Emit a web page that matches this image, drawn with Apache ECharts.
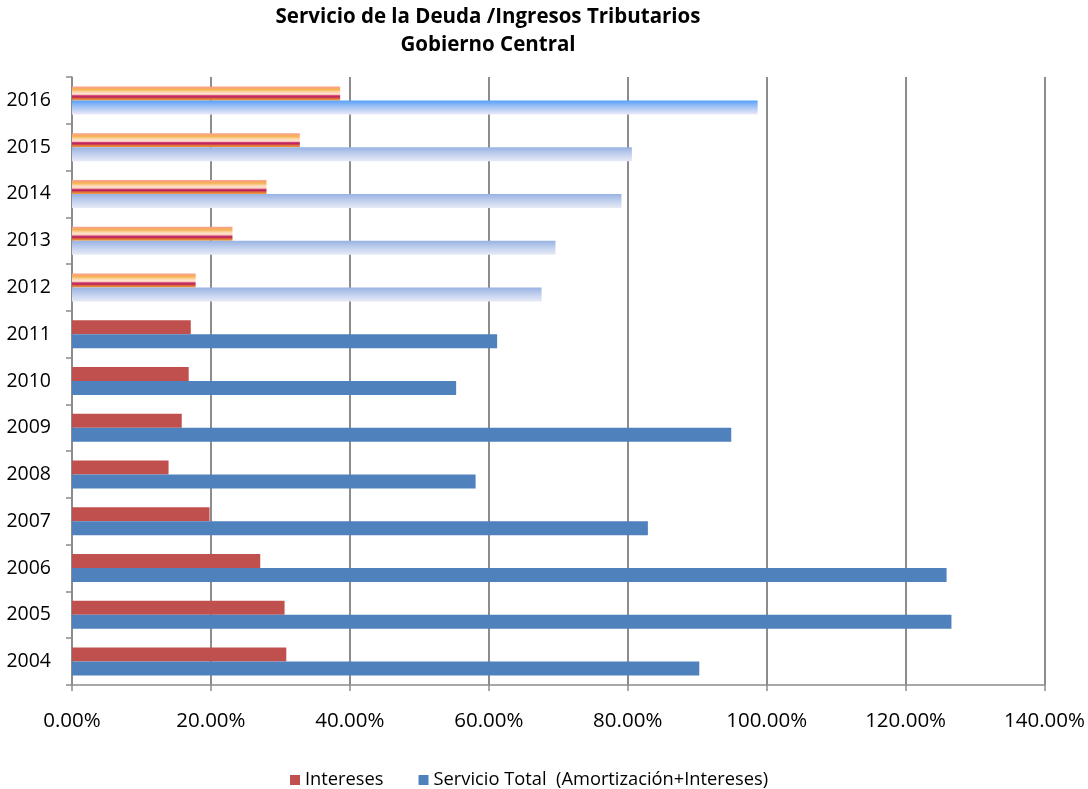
<!DOCTYPE html>
<html>
<head>
<meta charset="utf-8">
<script src="https://cdn.jsdelivr.net/npm/echarts@6/dist/echarts.min.js"></script>
<style>
  html, body { margin: 0; padding: 0; background: #ffffff; }
  #chart { width: 1088px; height: 789px; }
</style>
</head>
<body>
<div id="chart"></div>
<script>
// Years shown on the category axis (bottom to top)
const years = ['2004', '2005', '2006', '2007', '2008', '2009', '2010', '2011', '2012', '2013', '2014', '2015', '2016'];

// Interest payments as % of tax revenue
const intereses = [30.85, 30.6, 27.1, 19.8, 13.9, 15.8, 16.8, 17.1, 17.8, 23.1, 28.0, 32.8, 38.6];

// Total debt service (amortization + interest) as % of tax revenue
const servicioTotal = [90.3, 126.6, 125.9, 82.9, 58.1, 94.9, 55.3, 61.2, 67.6, 69.6, 79.1, 80.6, 98.7];

// Years from which values are projections (drawn with gradient fills)
const projectedFrom = 2012;

// Tick values along the percentage axis
const xTicks = [0, 20, 40, 60, 80, 100, 120, 140];

const FONT = '"Open Sans", sans-serif';
const RED = '#c0504d';
const BLUE = '#4f81bd';

function vGrad(stops) {
  return new echarts.graphic.LinearGradient(0, 0, 0, 1,
    stops.map(s => ({ offset: s[0], color: s[1] })));
}

const interesGrad = vGrad([
  [0.00, '#f9a08e'], [0.12, '#f8a878'], [0.22, '#f6b14c'], [0.36, '#fbcf98'],
  [0.50, '#ffe4d2'], [0.60, '#f7c4b0'], [0.66, '#d0407a'], [0.76, '#b82058'],
  [0.84, '#d8603c'], [1.00, '#f0a040']
]);
const totalGradBright = vGrad([[0, '#55a0fb'], [0.5, '#a8c6f4'], [1, '#ece8f8']]);
const totalGradSoft = vGrad([[0, '#98b2e2'], [0.5, '#c2d0ee'], [1, '#e6eaf6']]);

function buildItems(values, kind) {
  return values.map((v, i) => {
    const y = Number(years[i]);
    if (y < projectedFrom) return { value: v };
    let color;
    if (kind === 'int') color = interesGrad;
    else color = (i === values.length - 1) ? totalGradBright : totalGradSoft;
    return { value: v, itemStyle: { color: color, borderWidth: 0 } };
  });
}

const chart = echarts.init(document.getElementById('chart'), null, { renderer: 'canvas' });

chart.setOption({
  animation: false,
  backgroundColor: '#ffffff',
  title: {
    text: 'Servicio de la Deuda /Ingresos Tributarios\nGobierno Central',
    left: 483,
    top: 0,
    padding: [3, 5, 5, 5],
    textAlign: 'center',
    textStyle: { fontFamily: FONT, fontWeight: 'bold', fontSize: 20.5, color: '#000', lineHeight: 28 }
  },
  legend: {
    top: 766,
    left: 285,
    itemWidth: 10,
    itemHeight: 10,
    itemGap: 35,
    icon: 'rect',
    data: ['Intereses', 'Servicio Total  (Amortización+Intereses)'],
    textStyle: { fontFamily: FONT, fontSize: 18.3, color: '#000' }
  },
  grid: { left: 72, right: 43, top: 77, bottom: 104, containLabel: false },
  xAxis: {
    type: 'value',
    min: xTicks[0],
    max: xTicks[xTicks.length - 1],
    interval: xTicks[1] - xTicks[0],
    axisLine: { show: true, lineStyle: { color: '#8c8c8c', width: 1.5 } },
    axisTick: { show: true, length: 6, lineStyle: { color: '#8c8c8c', width: 1.5 } },
    splitLine: { show: true, lineStyle: { color: '#8c8c8c', width: 2 } },
    axisLabel: {
      margin: 26,
      fontFamily: FONT, fontSize: 20.5, color: '#000',
      formatter: v => v.toFixed(2) + '%'
    }
  },
  yAxis: {
    type: 'category',
    data: years,
    axisLine: { show: true, lineStyle: { color: '#8c8c8c', width: 1.5 } },
    axisTick: { show: true, length: 6, lineStyle: { color: '#8c8c8c', width: 1.5 } },
    axisLabel: { margin: 21, fontFamily: FONT, fontSize: 19.5, color: '#000' }
  },
  series: [
    {
      name: 'Intereses',
      type: 'bar',
      barWidth: 14,
      barGap: '0%',
      itemStyle: { color: RED },
      data: buildItems(intereses, 'int')
    },
    {
      name: 'Servicio Total  (Amortización+Intereses)',
      type: 'bar',
      barWidth: 14,
      barGap: '0%',
      itemStyle: { color: BLUE },
      data: buildItems(servicioTotal, 'tot')
    }
  ]
});
</script>
</body>
</html>
